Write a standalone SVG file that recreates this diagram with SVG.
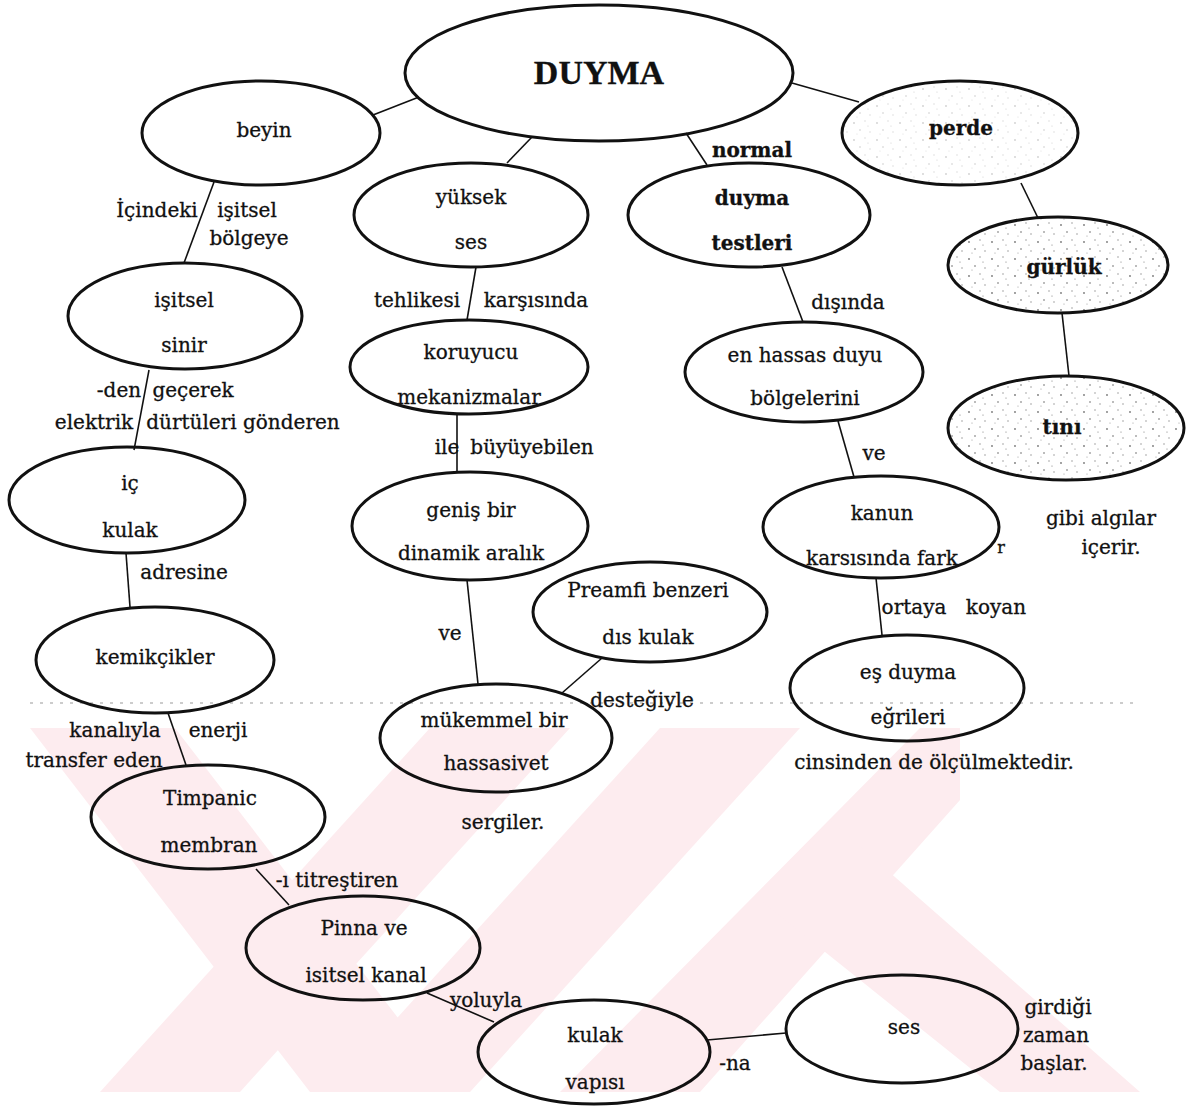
<svg xmlns="http://www.w3.org/2000/svg" width="1189" height="1108" viewBox="0 0 1189 1108">
<style>
.n{fill:none;stroke:#111;stroke-width:3}
.c{stroke:#111;stroke-width:1.6;fill:none}
text{font-family:"DejaVu Serif","Liberation Serif",serif;font-size:20px;fill:#111;text-anchor:middle;stroke:#111;stroke-width:0.3}
.b{font-weight:bold}
.t{font-family:"Liberation Serif",serif;font-weight:bold;font-size:34px}
.wm{fill:#fdecef}
</style>
<defs>
<pattern id="speck" width="23" height="17" patternUnits="userSpaceOnUse">
<circle cx="3" cy="4" r="0.9" fill="#777"/><circle cx="14" cy="2" r="0.7" fill="#888"/><circle cx="9" cy="11" r="0.8" fill="#666"/><circle cx="19" cy="13" r="0.7" fill="#888"/><circle cx="6" cy="15" r="0.6" fill="#999"/><circle cx="17" cy="7" r="0.6" fill="#777"/>
</pattern>
</defs>
<rect width="1189" height="1108" fill="#fff"/>
<g id="watermark">
<polygon class="wm" points="30,728 175,728 455,1092 310,1092"/>
<polygon class="wm" points="100,1092 240,1092 570,728 430,728"/>
<polygon class="wm" points="330,1092 470,1092 800,728 660,728"/>
<polygon class="wm" points="560,1092 700,1092 960,800 960,728 920,728"/>
<polygon class="wm" points="760,900 830,820 1140,1092 1000,1092"/>
</g>
<line x1="30" y1="703" x2="1140" y2="703" stroke="#999" stroke-width="1" stroke-dasharray="3 7"/>
<g id="connectors">
<line class="c" x1="373" y1="115" x2="419" y2="97"/>
<line class="c" x1="532" y1="137" x2="507" y2="163"/>
<line class="c" x1="686" y1="133" x2="707" y2="165"/>
<line class="c" x1="792" y1="83" x2="859" y2="102"/>
<line class="c" x1="214" y1="182" x2="184" y2="263"/>
<line class="c" x1="149" y1="370" x2="134" y2="450"/>
<line class="c" x1="126" y1="553" x2="130" y2="607"/>
<line class="c" x1="168" y1="713" x2="186" y2="765"/>
<line class="c" x1="256" y1="869" x2="289" y2="905"/>
<line class="c" x1="427" y1="993" x2="494" y2="1022"/>
<line class="c" x1="707" y1="1040" x2="786" y2="1033"/>
<line class="c" x1="476" y1="267" x2="467" y2="320"/>
<line class="c" x1="457" y1="414" x2="457" y2="472"/>
<line class="c" x1="467" y1="580" x2="478" y2="684"/>
<line class="c" x1="602" y1="658" x2="562" y2="693"/>
<line class="c" x1="782" y1="267" x2="803" y2="322"/>
<line class="c" x1="838" y1="421" x2="854" y2="477"/>
<line class="c" x1="876" y1="578" x2="882" y2="635"/>
<line class="c" x1="1021" y1="183" x2="1038" y2="218"/>
<line class="c" x1="1062" y1="313" x2="1069" y2="376"/>
</g>
<g id="duyma"><ellipse class="n" cx="599" cy="73" rx="194" ry="68"/><text class="t" x="599" y="84">DUYMA</text></g>
<g id="beyin"><ellipse class="n" cx="261" cy="133" rx="119" ry="52"/><text x="264" y="137">beyin</text></g>
<g id="yuksek-ses"><ellipse class="n" cx="471" cy="215" rx="117" ry="52"/><text x="471" y="204">yüksek</text><text x="471" y="249">ses</text></g>
<g id="normal-duyma-testleri"><ellipse class="n" cx="749" cy="215" rx="121" ry="52"/><text class="b" x="752" y="205">duyma</text><text class="b" x="752" y="250">testleri</text></g>
<g id="perde"><ellipse cx="960" cy="133" rx="118" ry="52" fill="url(#speck)" opacity="0.35"/><ellipse class="n" cx="960" cy="133" rx="118" ry="52"/><text class="b" x="961" y="135">perde</text></g>
<g id="gurluk"><ellipse cx="1058" cy="265" rx="110" ry="48" fill="url(#speck)"/><ellipse class="n" cx="1058" cy="265" rx="110" ry="48"/><text class="b" x="1064" y="274">gürlük</text></g>
<g id="tini"><ellipse cx="1066" cy="428" rx="118" ry="52" fill="url(#speck)"/><ellipse class="n" cx="1066" cy="428" rx="118" ry="52"/><text class="b" x="1062" y="434">tını</text></g>
<g id="isitsel-sinir"><ellipse class="n" cx="185" cy="316" rx="117" ry="53"/><text x="184" y="307">işitsel</text><text x="184" y="352">sinir</text></g>
<g id="koruyucu"><ellipse class="n" cx="469" cy="367" rx="119" ry="47"/><text x="471" y="359">koruyucu</text><text x="469" y="404">mekanizmalar</text></g>
<g id="en-hassas"><ellipse class="n" cx="804" cy="372" rx="119" ry="50"/><text x="805" y="362">en hassas duyu</text><text x="805" y="405">bölgelerini</text></g>
<g id="ic-kulak"><ellipse class="n" cx="127" cy="500" rx="118" ry="53"/><text x="130" y="490">iç</text><text x="130" y="537">kulak</text></g>
<g id="genis"><ellipse class="n" cx="470" cy="526" rx="118" ry="54"/><text x="471" y="517">geniş bir</text><text x="471" y="560">dinamik aralık</text></g>
<g id="kanun"><ellipse class="n" cx="881" cy="527" rx="118" ry="51"/><text x="882" y="520">kanun</text><text x="882" y="565">karsısında fark</text></g>
<g id="preamfi"><ellipse class="n" cx="650" cy="612" rx="117" ry="50"/><text x="648" y="597">Preamfi benzeri</text><text x="648" y="644">dıs kulak</text></g>
<g id="kemikcikler"><ellipse class="n" cx="155" cy="660" rx="119" ry="53"/><text x="155" y="664">kemikçikler</text></g>
<g id="mukemmel"><ellipse class="n" cx="496" cy="738" rx="116" ry="54"/><text x="494" y="727">mükemmel bir</text><text x="496" y="770">hassasivet</text></g>
<g id="es-duyma"><ellipse class="n" cx="907" cy="688" rx="117" ry="53"/><text x="908" y="679">eş duyma</text><text x="908" y="724">eğrileri</text></g>
<g id="timpanic"><ellipse class="n" cx="208" cy="817" rx="117" ry="52"/><text x="210" y="805">Timpanic</text><text x="209" y="852">membran</text></g>
<g id="pinna"><ellipse class="n" cx="363" cy="948" rx="117" ry="52"/><text x="364" y="935">Pinna ve</text><text x="366" y="982">isitsel kanal</text></g>
<g id="kulak-yapisi"><ellipse class="n" cx="594" cy="1052" rx="116" ry="52"/><text x="595" y="1042">kulak</text><text x="595" y="1089">vapısı</text></g>
<g id="ses"><ellipse class="n" cx="902" cy="1029" rx="116" ry="54"/><text x="904" y="1034">ses</text></g>
<g id="labels">
<text class="b" x="752" y="157">normal</text>
<text x="157" y="217">İçindeki</text>
<text x="247" y="217">işitsel</text>
<text x="249" y="245">bölgeye</text>
<text x="417" y="307">tehlikesi</text>
<text x="536" y="307">karşısında</text>
<text x="848" y="309">dışında</text>
<text x="119" y="397">-den</text>
<text x="193" y="397">geçerek</text>
<text x="94" y="429">elektrik</text>
<text x="243" y="429">dürtüleri gönderen</text>
<text x="447" y="454">ile</text>
<text x="532" y="454">büyüyebilen</text>
<text x="874" y="460">ve</text>
<text x="1101" y="525">gibi algılar</text>
<text x="1111" y="554">içerir.</text>
<text x="1001" y="553" style="font-size:16px">r</text>
<text x="184" y="579">adresine</text>
<text x="914" y="614">ortaya</text>
<text x="996" y="614">koyan</text>
<text x="450" y="640">ve</text>
<text x="642" y="707">desteğiyle</text>
<text x="115" y="737">kanalıyla</text>
<text x="218" y="737">enerji</text>
<text x="94" y="767">transfer eden</text>
<text x="934" y="769">cinsinden de ölçülmektedir.</text>
<text x="503" y="829">sergiler.</text>
<text x="337" y="887">-ı titreştiren</text>
<text x="486" y="1007">yoluyla</text>
<text x="735" y="1070">-na</text>
<text x="1058" y="1014">girdiği</text>
<text x="1056" y="1042">zaman</text>
<text x="1054" y="1070">başlar.</text>
</g>
</svg>
